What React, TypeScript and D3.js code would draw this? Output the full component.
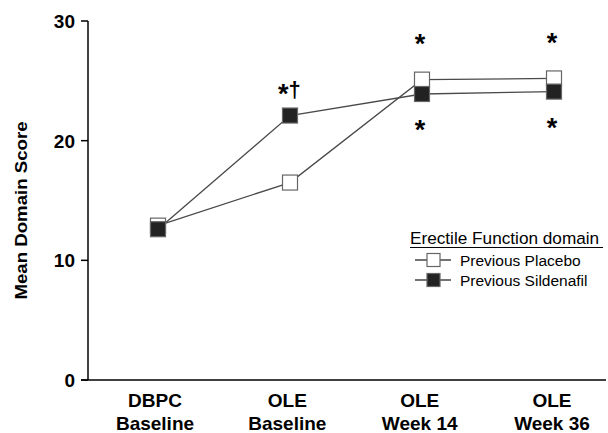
import React from "react";
import * as d3 from "d3";

const categories = ["DBPC|Baseline", "OLE|Baseline", "OLE|Week 14", "OLE|Week 36"];
const placebo = [12.9, 16.5, 25.1, 25.2];
const sildenafil = [12.6, 22.1, 23.9, 24.1];
const yTicks = [0, 10, 20, 30];
const seriesNames = ["Previous Placebo", "Previous Sildenafil"];
const legendTitle = "Erectile Function domain";
const yTitle = "Mean Domain Score";
const annotations = [
  { cat: 1, text: "*†", where: "above", series: 1 },
  { cat: 2, text: "*", where: "above", series: 0 },
  { cat: 2, text: "*", where: "below", series: 1 },
  { cat: 3, text: "*", where: "above", series: 0 },
  { cat: 3, text: "*", where: "below", series: 1 },
];

const FONT = "'Liberation Sans', Arial, Helvetica, sans-serif";

export default function App() {
  const W = 608, H = 433;
  const y = d3.scaleLinear().domain([0, 30]).range([380, 21]);
  const x = d3.scalePoint().domain(categories).range([158, 554]);
  const xl = d3.scalePoint().domain(categories).range([155, 552]);
  const line = d3.line<number>().x((_, i) => x(categories[i])!).y((d) => y(d));
  const series = [placebo, sildenafil];
  const fills = ["#ffffff", "#222222"];
  const S = 15;
  return (
    <div style={{ position: "fixed", left: 0, top: 0, width: W, height: H, overflow: "hidden" }}>
      <svg width={W} height={H} style={{ display: "block", background: "#fff" }} fontFamily={FONT}>
        {/* axes */}
        <line x1={88} x2={88} y1={y(30)} y2={y(0)} stroke="#000" strokeWidth={1.5} />
        <line x1={81} x2={606} y1={y(0)} y2={y(0)} stroke="#000" strokeWidth={1.5} />
        {yTicks.map((t) => (
          <g key={t}>
            <line x1={81} x2={88} y1={y(t)} y2={y(t)} stroke="#000" strokeWidth={1.5} />
            <text x={75} y={y(t)} dy="0.36em" textAnchor="end" fontSize={19} fontWeight="bold">{t}</text>
          </g>
        ))}
        <text transform={`translate(27,${(y(0) + y(30)) / 2 + 10}) rotate(-90)`} textAnchor="middle" fontSize={17} fontWeight="bold" textLength={178} lengthAdjust="spacingAndGlyphs">{yTitle}</text>
        {categories.map((c) => {
          const [a, b] = c.split("|");
          return (
            <text key={c} x={xl(c)} textAnchor="middle" fontSize={19} fontWeight="bold">
              <tspan x={xl(c)} y={407}>{a}</tspan>
              <tspan x={xl(c)} y={430}>{b}</tspan>
            </text>
          );
        })}
        {/* series */}
        {series.map((s, si) => (
          <g key={si}>
            <path d={line(s)!} fill="none" stroke="#4a4a4a" strokeWidth={1.3} />
            {s.map((v, i) => (
              <rect key={i} x={x(categories[i])! - S / 2} y={y(v) - S / 2} width={S} height={S} fill={fills[si]} stroke="#666" strokeWidth={1.2} />
            ))}
          </g>
        ))}
        {annotations.map((a, i) => {
          const v = series[a.series][a.cat];
          const mx = x(categories[a.cat])!;
          if (a.text.length > 1) {
            return (
              <text key={i} x={mx - 12} y={y(v) - 13} fontWeight="bold">
                <tspan fontSize={27}>{a.text[0]}</tspan>
                <tspan fontSize={22} dy={-6}>{a.text.slice(1)}</tspan>
              </text>
            );
          }
          const yy = a.where === "above" ? y(v) - 26.5 : y(v) + 45;
          return (
            <text key={i} x={mx - 2} y={yy} textAnchor="middle" fontSize={27} fontWeight="bold">{a.text}</text>
          );
        })}
        {/* legend */}
        <text x={410} y={244} fontSize={17.2}>{legendTitle}</text>
        <line x1={410} x2={603} y1={247.5} y2={247.5} stroke="#000" strokeWidth={1} />
        {seriesNames.map((n, i) => (
          <g key={n}>
            <line x1={415} x2={451} y1={260 + i * 20} y2={260 + i * 20} stroke="#444" strokeWidth={1.3} />
            <rect x={427} y={260 + i * 20 - 6.5} width={13} height={13} fill={fills[i]} stroke="#666" strokeWidth={1.2} />
            <text x={460} y={265.5 + i * 20} fontSize={15.5}>{n}</text>
          </g>
        ))}
      </svg>
    </div>
  );
}
